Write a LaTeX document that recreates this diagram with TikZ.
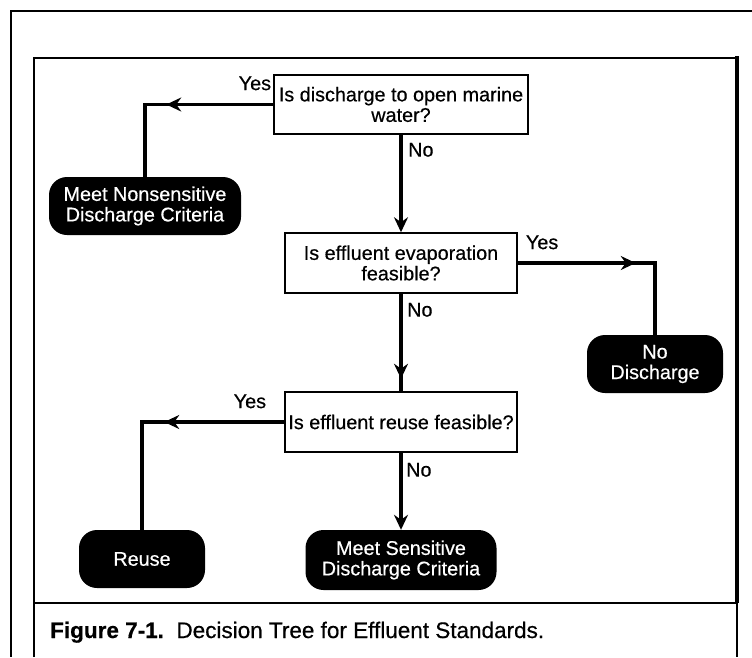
\documentclass[tikz,border=0pt]{standalone}
\usepackage{fontspec}
\setmainfont{Liberation Sans}[FakeBold=0.5]
\usetikzlibrary{arrows.meta,decorations.markings}
\begin{document}
\begin{tikzpicture}[x=1pt,y=-1pt,
  every node/.style={font=\fontsize{19.8}{20.5}\selectfont},
  qbox/.style={draw, line width=1.5pt, minimum height=59pt, align=center, inner sep=2pt},
  term/.style={fill=black, text=white, rounded corners=18pt, minimum height=58pt, align=center, inner sep=2pt},
  conn/.style={line width=3.5pt},
  tip/.style={-{Stealth[length=15pt,width=14pt,inset=5pt]}},
  lbl/.style={inner sep=0pt},
  midarrow/.style={postaction={decorate}, decoration={markings, mark=at position #1 with {\arrow{Stealth[length=15pt,width=14pt,inset=5pt]}}}},
  frame/.style={line width=1.5pt}
]
\useasboundingbox (0,0) rectangle (752,657);
% frames
\draw[frame] (752,11) -- (11,11) -- (11,657);
\draw[frame] (34,657) -- (34,58) -- (737,58);
\draw[line width=4pt] (737,56) -- (737,603);
\draw[frame] (34,603) -- (737,603);
\draw[line width=1.2pt] (737,603) -- (737,657);
% nodes
\node[qbox, minimum width=254pt] (q1) at (401,104.5) {Is discharge to open marine\\water?};
\node[qbox, minimum width=232pt, minimum height=60pt] (q2) at (401,263) {Is effluent evaporation\\feasible?};
\node[qbox, minimum width=232pt, minimum height=60pt] (q3) at (401,422) {Is effluent reuse feasible?};
\node[term, minimum width=192pt] (t1) at (145,206) {Meet Nonsensitive\\Discharge Criteria};
\node[term, minimum width=136pt] (t2) at (655,364) {No\\Discharge};
\node[term, minimum width=126pt] (t3) at (142,559) {Reuse};
\node[term, minimum width=191pt, minimum height=60pt] (t4) at (401,560) {Meet Sensitive\\Discharge Criteria};
% connectors
\draw[conn, midarrow=107pt] (q1.west) -| (t1.north);
\draw[conn, tip] (q1.south) -- (q2.north);
\draw[conn, midarrow=118pt] (q2.east) -| (t2.north);
\draw[conn, midarrow=85pt] (q2.south) -- (q3.north);
\draw[conn, midarrow=120pt] (q3.west) -| (t3.north);
\draw[conn, tip] (q3.south) -- (t4.north);
% labels
\node[lbl, anchor=north east] (y1) at ([xshift=-2pt,yshift=-2pt]q1.north west) {Yes};
\node[lbl, anchor=north west] (n1) at ([xshift=7pt,yshift=-8pt]q1.south) {No};
\node[lbl, anchor=north west] (y2) at ([xshift=8pt,yshift=-3pt]q2.north east) {Yes};
\node[lbl, anchor=north west] (n2) at ([xshift=6pt,yshift=-9pt]q2.south) {No};
\node[lbl, anchor=north east] (y3) at ([xshift=-18pt,yshift=-3pt]q3.north west) {Yes};
\node[lbl, anchor=north west] (n3) at ([xshift=5pt,yshift=-10pt]q3.south) {No};
% caption
\node[anchor=base west, inner sep=0pt, font=\fontsize{22.5}{23}\selectfont] (cap) at (50,638) {\textbf{Figure 7-1.}\ \ Decision Tree for Effluent Standards.};
\end{tikzpicture}
\end{document}
